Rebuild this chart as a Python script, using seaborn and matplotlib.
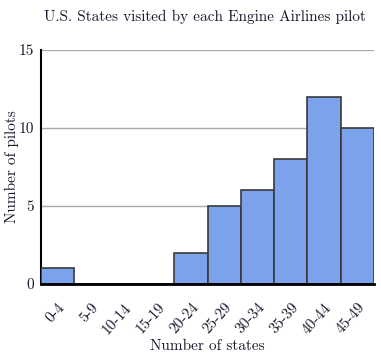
import matplotlib
matplotlib.use("Agg")
import matplotlib.pyplot as plt
import seaborn as sns
import pandas as pd
import numpy as np

categories = ["0-4", "5-9", "10-14", "15-19", "20-24", "25-29", "30-34", "35-39", "40-44", "45-49"]
pilots = [1, 0, 0, 0, 2, 5, 6, 8, 12, 10]
yticks = [0, 5, 10, 15]

sns.set_style("white")
plt.rcParams['font.family'] = ['cmr10', 'DejaVu Serif']
plt.rcParams['axes.formatter.use_mathtext'] = True

fig = plt.figure(figsize=(3.81, 3.60), dpi=100)
ax = fig.add_axes([41/381, 1 - 284/360, 333/381, 234/360])

df = pd.DataFrame({"cat": categories, "n": pilots})
sns.barplot(data=df, x="cat", y="n", ax=ax, width=1.0, color="#7ba2ea",
            saturation=1, edgecolor="#3a3a3a", linewidth=1.2, zorder=3)

ax.set_xlim(-0.5, len(categories) - 0.5)
ax.set_ylim(0, 15)
ax.set_yticks(yticks)
ax.set_yticklabels([str(v) for v in yticks], fontsize=11, color="#1a1a2e")
for v in yticks[1:]:
    ax.axhline(v, color="#aaaaaa", linewidth=1, zorder=1)

ax.set_xticks(np.arange(len(categories)))
ax.set_xticklabels(categories, rotation=48, ha="right", rotation_mode="anchor",
                   fontsize=11, color="#1a1a2e")
ax.tick_params(axis="x", which="major", length=0, pad=12)
ax.set_xticks(np.arange(len(categories) + 1) - 0.5, minor=True)
ax.tick_params(axis="x", which="minor", length=6, width=1.5, color="black", direction="inout")
ax.tick_params(axis="y", length=4, width=1.5, color="black", direction="inout", pad=3)

for s in ["top", "right"]:
    ax.spines[s].set_visible(False)
ax.spines["left"].set_linewidth(1.5)
ax.spines["bottom"].set_linewidth(2)
ax.spines["left"].set_color("black")
ax.spines["bottom"].set_color("black")
ax.spines["bottom"].set_zorder(5)

ax.set_xlabel("Number of states", fontsize=11, color="#1a1a2e")
ax.set_ylabel("Number of pilots", fontsize=11, color="#1a1a2e")
ax.yaxis.set_label_coords(-22/333, 0.5)
ax.xaxis.set_label_coords(0.5, -(339 - 284)/234)
fig.text(0.5 + 14/381, 1 - 17/360, "U.S. States visited by each Engine Airlines pilot",
         ha="center", va="center", fontsize=11, color="#1a1a2e")

fig.savefig("out.png", dpi=100)
